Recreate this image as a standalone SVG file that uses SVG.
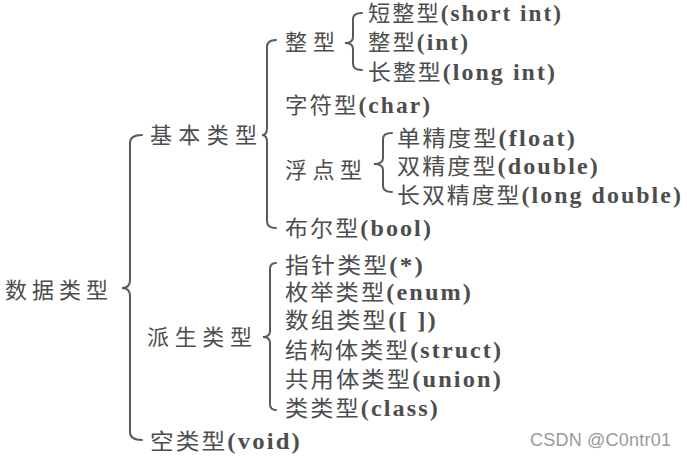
<svg xmlns="http://www.w3.org/2000/svg" width="687" height="457" viewBox="0 0 687 457">
<style>
text{font-family:"Liberation Serif","Noto Sans CJK SC",serif;font-size:22px;fill:#4d4d4d}
.m{letter-spacing:2px}
.l{font-weight:bold;font-family:"Liberation Serif",serif;font-size:23px}
.brace{fill:none;stroke:#5a5a5a;stroke-width:2;stroke-linecap:round}
.wm{font-family:"Liberation Sans","DejaVu Sans",sans-serif;font-size:18px;fill:#9a9a9a}
</style>
<rect width="687" height="457" fill="#fff"/>
<g id="connectors">
<path class="brace" d="M142 135 Q130 135 130 143 L130 280 Q130 288 122 288 Q130 288 130 296 L130 432 Q130 440 142 440"/>
<path class="brace" d="M276 40 Q267 40 267 47 L267 128 Q267 135 262 135 Q267 135 267 142 L267 221 Q267 228 276 228"/>
<path class="brace" d="M362 13 Q353 13 353 19 L353 37 Q353 43 345 43 Q353 43 353 49 L353 64 Q353 70 362 70"/>
<path class="brace" d="M392 133 Q383 133 383 139 L383 158 Q383 164 374 164 Q383 164 383 170 L383 186 Q383 192 392 192"/>
<path class="brace" d="M276 263 Q270 263 270 269 L270 331 Q270 337 263 337 Q270 337 270 343 L270 404 Q270 410 276 410"/>
</g>
<g id="n-root"><text x="5" y="298" textLength="103" lengthAdjust="spacing">数据类型</text></g>
<g id="n-basic"><text x="150" y="143" textLength="107" lengthAdjust="spacing">基本类型</text></g>
<g id="n-derived"><text x="147" y="345" textLength="105" lengthAdjust="spacing">派生类型</text></g>
<g id="n-void"><text class="m" x="150" y="449" textLength="152" lengthAdjust="spacingAndGlyphs">空类型<tspan class="l">(void)</tspan></text></g>
<g id="n-int"><text x="285" y="50" textLength="50" lengthAdjust="spacing">整型</text></g>
<g id="n-char"><text class="m" x="285" y="113" textLength="147" lengthAdjust="spacingAndGlyphs">字符型<tspan class="l">(char)</tspan></text></g>
<g id="n-float"><text x="285" y="178" textLength="77" lengthAdjust="spacing">浮点型</text></g>
<g id="n-bool"><text class="m" x="285" y="236" textLength="148" lengthAdjust="spacingAndGlyphs">布尔型<tspan class="l">(bool)</tspan></text></g>
<g id="n-short"><text class="m" x="368" y="21" textLength="195" lengthAdjust="spacingAndGlyphs">短整型<tspan class="l">(short int)</tspan></text></g>
<g id="n-intint"><text class="m" x="368" y="50" textLength="102" lengthAdjust="spacingAndGlyphs">整型<tspan class="l">(int)</tspan></text></g>
<g id="n-long"><text class="m" x="368" y="80" textLength="189" lengthAdjust="spacingAndGlyphs">长整型<tspan class="l">(long int)</tspan></text></g>
<g id="n-single"><text class="m" x="397" y="146" textLength="180" lengthAdjust="spacingAndGlyphs">单精度型<tspan class="l">(float)</tspan></text></g>
<g id="n-double"><text class="m" x="397" y="174" textLength="203" lengthAdjust="spacingAndGlyphs">双精度型<tspan class="l">(double)</tspan></text></g>
<g id="n-ldouble"><text class="m" x="397" y="203" textLength="286" lengthAdjust="spacingAndGlyphs">长双精度型<tspan class="l">(long double)</tspan></text></g>
<g id="n-ptr"><text class="m" x="285" y="273" textLength="140" lengthAdjust="spacingAndGlyphs">指针类型<tspan class="l">(*)</tspan></text></g>
<g id="n-enum"><text class="m" x="285" y="300" textLength="188" lengthAdjust="spacingAndGlyphs">枚举类型<tspan class="l">(enum)</tspan></text></g>
<g id="n-array"><text class="m" x="285" y="328" textLength="153" lengthAdjust="spacingAndGlyphs">数组类型<tspan class="l">([ ])</tspan></text></g>
<g id="n-struct"><text class="m" x="285" y="358" textLength="218" lengthAdjust="spacingAndGlyphs">结构体类型<tspan class="l">(struct)</tspan></text></g>
<g id="n-union"><text class="m" x="285" y="387" textLength="218" lengthAdjust="spacingAndGlyphs">共用体类型<tspan class="l">(union)</tspan></text></g>
<g id="n-class"><text class="m" x="285" y="416" textLength="155" lengthAdjust="spacingAndGlyphs">类类型<tspan class="l">(class)</tspan></text></g>
<text class="wm" x="530" y="446" textLength="141" lengthAdjust="spacing">CSDN @C0ntr01</text>
</svg>
